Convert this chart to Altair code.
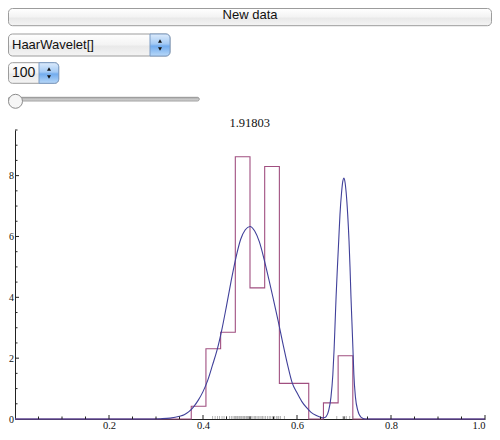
import altair as alt
import pandas as pd

# ---------------- data ----------------
curve_x = [0.0, 0.28, 0.31, 0.33, 0.35, 0.36, 0.37, 0.38, 0.39, 0.40, 0.41, 0.42,
           0.43, 0.44, 0.45, 0.46, 0.47, 0.48, 0.49, 0.50, 0.51, 0.52, 0.53, 0.54,
           0.55, 0.56, 0.57, 0.58, 0.59, 0.60, 0.61, 0.62, 0.63, 0.64, 0.65, 0.657,
           0.662, 0.6675, 0.6722, 0.6763, 0.679, 0.6811, 0.6832, 0.686, 0.6887,
           0.6914, 0.6949, 0.6975, 0.6996, 0.702, 0.7045, 0.7079, 0.7107, 0.7128,
           0.7148, 0.7169, 0.719, 0.721, 0.7244, 0.7293, 0.736, 0.745, 1.0]
curve_y = [0.0, 0.0, 0.01, 0.03, 0.09, 0.14, 0.24, 0.40, 0.62, 0.90, 1.27, 1.76,
           2.27, 2.93, 3.72, 4.55, 5.30, 5.90, 6.22, 6.33, 6.18, 5.82, 5.25, 4.60,
           3.92, 3.22, 2.48, 1.78, 1.18, 0.86, 0.58, 0.38, 0.22, 0.12, 0.06, 0.04,
           0.08, 0.28, 0.71, 1.46, 2.31, 3.17, 4.03, 4.99, 5.85,
           6.71, 7.46, 7.82, 7.92, 7.80, 7.46, 6.71, 5.85, 4.99,
           4.03, 3.17, 2.31, 1.46, 0.71, 0.28, 0.06, 0.0, 0.0]

step_edges = [0.0, 0.375, 0.40625, 0.4375, 0.46875, 0.5, 0.53125, 0.5625, 0.625,
              0.65625, 0.6875, 0.71875, 1.0]
step_heights = [0.0, 0.42, 2.31, 2.85, 8.62, 4.31, 8.30, 1.17, 0.0, 0.53, 2.08, 0.0, 0.0]

rug_x = [0.4204, 0.4258, 0.4309, 0.4352, 0.4405, 0.4448, 0.4501, 0.4565, 0.4604, 0.4638,
         0.4668, 0.4689, 0.4707, 0.4731, 0.4746, 0.4772, 0.4788, 0.4809, 0.4826, 0.4851,
         0.4869, 0.4884, 0.4912, 0.4928, 0.4947, 0.4969, 0.4986, 0.5008, 0.5026,
         0.5062, 0.5093, 0.5118, 0.5149, 0.5177, 0.5211, 0.5238, 0.5266, 0.5297, 0.5331,
         0.5372, 0.5409, 0.5441, 0.5483, 0.5522, 0.5561, 0.5593, 0.5612, 0.5648, 0.5733,
         0.6846, 0.6978, 0.7016, 0.7051, 0.7121, 0.7189]

x_labels = [0.2, 0.4, 0.6, 0.8, 1.0]
x_minor = [0.05, 0.1, 0.15, 0.25, 0.3, 0.35, 0.45, 0.5, 0.55, 0.65, 0.7, 0.75,
           0.85, 0.9, 0.95]
y_labels = [0, 2, 4, 6, 8]
y_major = [2, 4, 6, 8]
y_minor = [0.5, 1.0, 1.5, 2.5, 3.0, 3.5, 4.5, 5.0, 5.5, 6.5, 7.0, 7.5, 8.5, 9.0, 9.5]

title_text = "1.91803"
button_text = "New data"
menu_text = "HaarWavelet[]"
count_text = "100"

# ---------------- chart ----------------
W, H = 470, 289
one = pd.DataFrame({"k": [0]})

X = alt.X("x:Q", scale=alt.Scale(domain=[0, 1], nice=False, zero=False),
          axis=alt.Axis(values=x_labels, format=".1f", tickSize=0, grid=False,
                        domainColor="#222222", domainWidth=1,
                        labelFont="Liberation Serif", labelFontSize=10.5,
                        labelColor="#111111", labelPadding=1.5),
          title=None)
Y = alt.Y("y:Q", scale=alt.Scale(domain=[0, 9.5], nice=False, zero=False),
          axis=alt.Axis(values=y_labels, tickSize=0, grid=False,
                        domainColor="#222222", domainWidth=1,
                        labelFont="Liberation Serif", labelFontSize=10,
                        labelColor="#111111", labelPadding=1.5),
          title=None)

step_layer = alt.Chart(pd.DataFrame({"x": step_edges, "y": step_heights})).mark_line(
    interpolate="step-after", color="#a04f80", strokeWidth=1.1
).encode(x=X, y=Y)

curve_layer = alt.Chart(pd.DataFrame({"x": curve_x, "y": curve_y})).mark_line(
    interpolate="monotone", color="#40409a", strokeWidth=1.1
).encode(x=X, y=Y)

rug_layer = alt.Chart(pd.DataFrame({"x": rug_x})).mark_rule(
    color="#8a8a8a", strokeWidth=0.8, opacity=0.8
).encode(x=X, y=alt.value(H - 3), y2=alt.value(H))

xmaj_layer = alt.Chart(pd.DataFrame({"x": x_labels})).mark_rule(color="#222222").encode(
    x=X, y=alt.value(H - 4), y2=alt.value(H))
xmin_layer = alt.Chart(pd.DataFrame({"x": x_minor})).mark_rule(color="#222222").encode(
    x=X, y=alt.value(H - 2.5), y2=alt.value(H))
ymaj_layer = alt.Chart(pd.DataFrame({"y": y_major})).mark_rule(color="#222222").encode(
    y=Y, x=alt.value(0), x2=alt.value(4))
ymin_layer = alt.Chart(pd.DataFrame({"y": y_minor})).mark_rule(color="#222222").encode(
    y=Y, x=alt.value(0), x2=alt.value(2.5))

title_layer = alt.Chart(one).mark_text(
    text=title_text, font="Liberation Serif", fontSize=12.5, color="#111111",
    align="center", baseline="alphabetic"
).encode(x=alt.value(234.7), y=alt.value(-3.5))


def grad(stops):
    return alt.LinearGradient(
        gradient="linear", x1=0, y1=0, x2=0, y2=1,
        stops=[alt.GradientStop(offset=o, color=c) for o, c in stops])


gray_grad = grad([(0, "#ffffff"), (0.5, "#f3f3f3"), (0.55, "#e9e9e9"), (1, "#f4f4f4")])
blue_grad = grad([(0, "#dcebfc"), (0.45, "#a4caf4"), (0.55, "#72acee"), (1, "#b8d8f8")])


def box(x1, x2, y1, y2, **kw):
    return alt.Chart(one).mark_rect(**kw).encode(
        x=alt.value(x1), x2=alt.value(x2), y=alt.value(y1), y2=alt.value(y2))


def label(txt, x, y, size=13, align="left"):
    return alt.Chart(one).mark_text(
        text=txt, font="Liberation Sans", fontSize=size, color="#111111",
        align=align, baseline="middle"
    ).encode(x=alt.value(x), y=alt.value(y))


def tri(shape, x, y):
    return alt.Chart(one).mark_point(
        shape=shape, filled=True, fill="#111111", strokeWidth=0, size=16, opacity=1
    ).encode(x=alt.value(x), y=alt.value(y))


controls = [
    # button
    box(-6.5, 476.5, -121.5, -104.3, fill=gray_grad, stroke="#9c9c9c",
        strokeWidth=1, cornerRadius=4),
    label(button_text, 235, -114.8, size=13, align="center"),
    # popup menu 1
    box(-6.5, 155, -96, -74, fill=gray_grad, stroke="#9c9c9c",
        strokeWidth=1, cornerRadius=4),
    box(135, 155, -96, -74, fill=blue_grad, stroke="#7c9cc4", strokeWidth=1,
        cornerRadiusTopRight=4, cornerRadiusBottomRight=4),
    label(menu_text, -3, -85, size=13),
    tri("triangle-up", 145, -89),
    tri("triangle-down", 145, -81),
    # popup menu 2
    box(-6.5, 43.7, -67.3, -46.7, fill=gray_grad, stroke="#9c9c9c",
        strokeWidth=1, cornerRadius=4),
    box(24, 43.7, -67.3, -46.7, fill=blue_grad, stroke="#7c9cc4", strokeWidth=1,
        cornerRadiusTopRight=4, cornerRadiusBottomRight=4),
    label(count_text, -3, -57, size=14),
    tri("triangle-up", 34, -61),
    tri("triangle-down", 34, -53),
    # slider
    box(-7, 184.3, -32.7, -29, fill=grad([(0, "#a8a8a8"), (1, "#dedede")]),
        stroke="#8a8a8a", strokeWidth=0.8, cornerRadius=2),
    alt.Chart(one).mark_point(
        shape="circle", filled=True, fill="#f6f6f6", stroke="#8c8c8c",
        strokeWidth=1, size=196, opacity=1
    ).encode(x=alt.value(0.5), y=alt.value(-28.7)),
]

chart = alt.layer(
    step_layer, curve_layer, rug_layer,
    xmaj_layer, xmin_layer, ymaj_layer, ymin_layer,
    title_layer, *controls
).properties(
    width=W, height=H,
    autosize=alt.AutoSizeParams(type="none"),
    padding={"left": 7, "top": 122, "right": 7, "bottom": 13},
).configure_view(strokeWidth=0)

chart.save("out.html", embed_options={"renderer": "svg", "actions": False})
